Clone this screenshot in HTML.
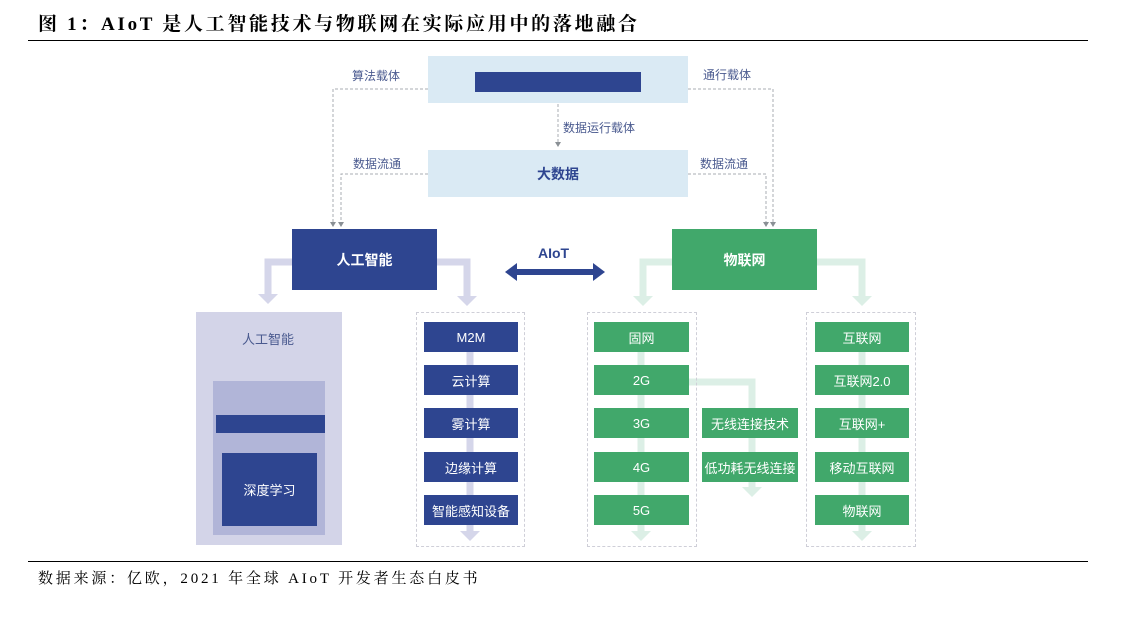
<!DOCTYPE html>
<html><head><meta charset="utf-8"><style>
body{margin:0;width:1126px;height:622px;background:#fff;position:relative;overflow:hidden;font-family:"Liberation Sans","Noto Sans CJK SC",sans-serif}
.a{position:absolute;box-sizing:border-box}
.c{display:flex;align-items:center;justify-content:center;color:#fff;font-size:13px}
.b{background:#2e4590}.g{background:#41a86b}
.lbl{position:absolute;font-size:12px;color:#4a5a8f;white-space:nowrap}
.dash{position:absolute;box-sizing:border-box;border:1px dashed #cfcfd8}
</style></head><body>
<div class="a" style="left:38px;top:9px;font-family:'Liberation Serif','Noto Serif CJK SC',serif;font-weight:bold;font-size:19px;letter-spacing:2.7px;color:#000;white-space:nowrap">图&nbsp;1：AIoT 是人工智能技术与物联网在实际应用中的落地融合</div>
<div class="a" style="left:28px;top:40px;width:1060px;height:1px;background:#000"></div>
<div class="a" style="left:28px;top:561px;width:1060px;height:1px;background:#000"></div>
<div class="a" style="left:38px;top:567px;font-family:'Liberation Serif','Noto Serif CJK SC',serif;font-size:15px;letter-spacing:2.8px;color:#000;white-space:nowrap">数据来源：亿欧，2021 年全球 AIoT 开发者生态白皮书</div>

<svg class="a" style="left:0;top:0" width="1126" height="622">
<g fill="none" stroke="#a9adb3" stroke-width="1" stroke-dasharray="3,2">
<polyline points="428,89 333,89 333,222"/>
<polyline points="428,174 341,174 341,222"/>
<polyline points="688,89 773,89 773,222"/>
<polyline points="688,174 766,174 766,222"/>
<line x1="558" y1="104" x2="558" y2="142"/>
</g>
<g fill="#8a9095">
<polygon points="330,222 336,222 333,227"/><polygon points="338,222 344,222 341,227"/>
<polygon points="770,222 776,222 773,227"/><polygon points="763,222 769,222 766,227"/>
<polygon points="555,142 561,142 558,147"/>
</g>
<g fill="none" stroke="#d5d6ea" stroke-width="7">
<polyline points="292,262 268,262 268,295"/>
<polyline points="437,262 467,262 467,297"/>
<line x1="470" y1="352" x2="470" y2="532"/>
</g>
<g fill="#d5d6ea">
<polygon points="258,294 278,294 268,304"/>
<polygon points="457,296 477,296 467,306"/>
<polygon points="460,531 480,531 470,541"/>
</g>
<g fill="none" stroke="#dcefe6" stroke-width="7">
<polyline points="672,262 643,262 643,297"/>
<polyline points="817,262 862,262 862,297"/>
<line x1="641" y1="352" x2="641" y2="532"/>
<line x1="862" y1="352" x2="862" y2="532"/>
<polyline points="689,382 752,382 752,488"/>
</g>
<g fill="#dcefe6">
<polygon points="633,296 653,296 643,306"/>
<polygon points="852,296 872,296 862,306"/>
<polygon points="631,531 651,531 641,541"/>
<polygon points="852,531 872,531 862,541"/>
<polygon points="742,487 762,487 752,497"/>
</g>
<g fill="#2e4590">
<rect x="515" y="269" width="80" height="6"/>
<polygon points="505,272 517,263 517,281"/>
<polygon points="605,272 593,263 593,281"/>
</g>
</svg>

<div class="a" style="left:428px;top:56px;width:260px;height:47px;background:#daeaf4"></div>
<div class="a b" style="left:475px;top:72px;width:166px;height:20px"></div>
<div class="a c" style="left:428px;top:150px;width:260px;height:47px;background:#daeaf4;color:#2e4590;font-weight:bold;font-size:14px">大数据</div>
<div class="lbl" style="left:352px;top:67px">算法载体</div>
<div class="lbl" style="left:703px;top:66px">通行载体</div>
<div class="lbl" style="left:563px;top:119px">数据运行载体</div>
<div class="lbl" style="left:353px;top:155px">数据流通</div>
<div class="lbl" style="left:700px;top:155px">数据流通</div>
<div class="lbl" style="left:538px;top:245px;color:#2e4590;font-weight:bold;font-size:14px">AIoT</div>

<div class="a c b" style="left:292px;top:229px;width:145px;height:61px;font-weight:bold;font-size:14px">人工智能</div>
<div class="a c g" style="left:672px;top:229px;width:145px;height:61px;font-weight:bold;font-size:14px">物联网</div>

<div class="a" style="left:196px;top:312px;width:146px;height:233px;background:#d3d4e8"></div>
<div class="lbl" style="left:242px;top:329px;font-size:13px;color:#4a5a8f">人工智能</div>
<div class="a" style="left:213px;top:381px;width:112px;height:154px;background:#b1b5d8"></div>
<div class="a b" style="left:216px;top:415px;width:109px;height:18px"></div>
<div class="a c b" style="left:222px;top:453px;width:95px;height:73px">深度学习</div>

<div class="dash" style="left:416px;top:312px;width:109px;height:235px"></div>
<div class="a c b" style="left:424px;top:322px;width:94px;height:30px">M2M</div>
<div class="a c b" style="left:424px;top:365px;width:94px;height:30px">云计算</div>
<div class="a c b" style="left:424px;top:408px;width:94px;height:30px">雾计算</div>
<div class="a c b" style="left:424px;top:452px;width:94px;height:30px">边缘计算</div>
<div class="a c b" style="left:424px;top:495px;width:94px;height:30px">智能感知设备</div>

<div class="dash" style="left:587px;top:312px;width:110px;height:235px"></div>
<div class="a c g" style="left:594px;top:322px;width:95px;height:30px">固网</div>
<div class="a c g" style="left:594px;top:365px;width:95px;height:30px">2G</div>
<div class="a c g" style="left:594px;top:408px;width:95px;height:30px">3G</div>
<div class="a c g" style="left:594px;top:452px;width:95px;height:30px">4G</div>
<div class="a c g" style="left:594px;top:495px;width:95px;height:30px">5G</div>
<div class="a c g" style="left:702px;top:408px;width:96px;height:30px">无线连接技术</div>
<div class="a c g" style="left:702px;top:452px;width:96px;height:30px">低功耗无线连接</div>

<div class="dash" style="left:806px;top:312px;width:110px;height:235px"></div>
<div class="a c g" style="left:815px;top:322px;width:94px;height:30px">互联网</div>
<div class="a c g" style="left:815px;top:365px;width:94px;height:30px">互联网2.0</div>
<div class="a c g" style="left:815px;top:408px;width:94px;height:30px">互联网+</div>
<div class="a c g" style="left:815px;top:452px;width:94px;height:30px">移动互联网</div>
<div class="a c g" style="left:815px;top:495px;width:94px;height:30px">物联网</div>
</body></html>
